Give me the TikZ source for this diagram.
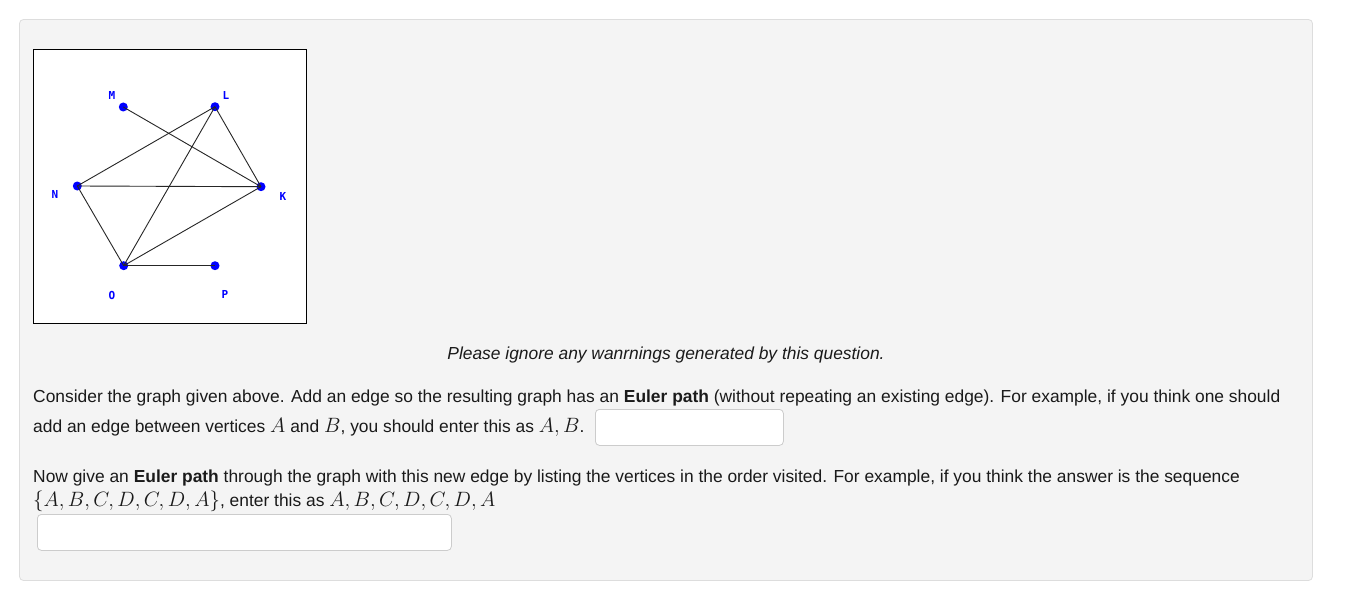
\documentclass[tikz,border=0pt]{standalone}
\usepackage{fontspec}
\setmainfont{Liberation Sans}
\newfontfamily\lblfont{DejaVu Sans Mono}
\definecolor{panelbg}{HTML}{F4F4F4}
\definecolor{panelborder}{HTML}{DDDDDD}
\definecolor{boxborder}{HTML}{CCCCCC}
\definecolor{vblue}{HTML}{0000FF}
\definecolor{txt}{HTML}{1A1A1A}
\newcommand{\mth}[1]{{\fontsize{21}{19}\selectfont$#1$}}
\tikzset{
  vtx/.style={circle,fill=vblue,inner sep=0pt,minimum size=9pt},
  vlbl/.style={text=vblue,font=\lblfont\bfseries\fontsize{11}{12}\selectfont,inner sep=0pt},
  edge/.style={draw=black!85,line width=0.9pt},
  para/.style={anchor=west,inner sep=0pt,text=txt,font=\fontsize{17.4}{19}\selectfont},
  inbox/.style={draw=boxborder,fill=white,rounded corners=4pt,line width=0.8pt}
}
\begin{document}
\begin{tikzpicture}[x=1pt,y=-1pt]
\useasboundingbox (0,0) rectangle (1348,591);
\fill[white] (0,0) rectangle (1348,591);
\draw[panelborder,fill=panelbg,rounded corners=4pt,line width=0.8pt] (19.5,19.5) rectangle (1312.5,580.5);
% graph box
\draw[black,fill=white,line width=1pt] (33,49.5) rectangle (306,323);
% vertices
\node[vtx] (M) at (123.3,107) {};
\node[vtx] (L) at (215,106.7) {};
\node[vtx] (N) at (77.3,186) {};
\node[vtx] (K) at (261,186.7) {};
\node[vtx] (O) at (123.7,265.7) {};
\node[vtx] (P) at (215,265.7) {};
% labels
\node[vlbl] (lM) at (112,95) {M};
\node[vlbl] (lL) at (226,95.5) {L};
\node[vlbl] (lN) at (55,194) {N};
\node[vlbl] (lK) at (283,196) {K};
\node[vlbl] (lO) at (112,295) {O};
\node[vlbl] (lP) at (225,294.5) {P};
% edges
\draw[edge] (M.center) -- (K.center);
\draw[edge] (L.center) -- (N.center);
\draw[edge] (L.center) -- (O.center);
\draw[edge] (L.center) -- (K.center);
\draw[edge] (N.center) -- (K.center);
\draw[edge] (N.center) -- (O.center);
\draw[edge] (O.center) -- (K.center);
\draw[edge] (O.center) -- (P.center);
% text
\node[para,anchor=center] (note) at (666,354.5) {\itshape Please ignore any wanrnings generated by this question.};
\node[para] (t1) at (33,397.5) {Consider the graph given above. Add an edge so the resulting graph has an \textbf{Euler path} (without repeating an existing edge). For example, if you think one should};
\node[para] (t2) at (33,427) {add an edge between vertices \mth{A} and \mth{B}, you should enter this as \mth{A, B}.};
\node[inbox,minimum width=188pt,minimum height=36pt,anchor=north west] (box1) at (595,409) {};
\node[para] (t3) at (33,477.5) {Now give an \textbf{Euler path} through the graph with this new edge by listing the vertices in the order visited. For example, if you think the answer is the sequence};
\node[para] (t4) at (33,501) {\mth{\{A, B, C, D, C, D, A\}}, enter this as \mth{A, B, C, D, C, D, A}};
\node[inbox,minimum width=414pt,minimum height=36pt,anchor=north west] (box2) at (37,514) {};
\end{tikzpicture}
\end{document}
